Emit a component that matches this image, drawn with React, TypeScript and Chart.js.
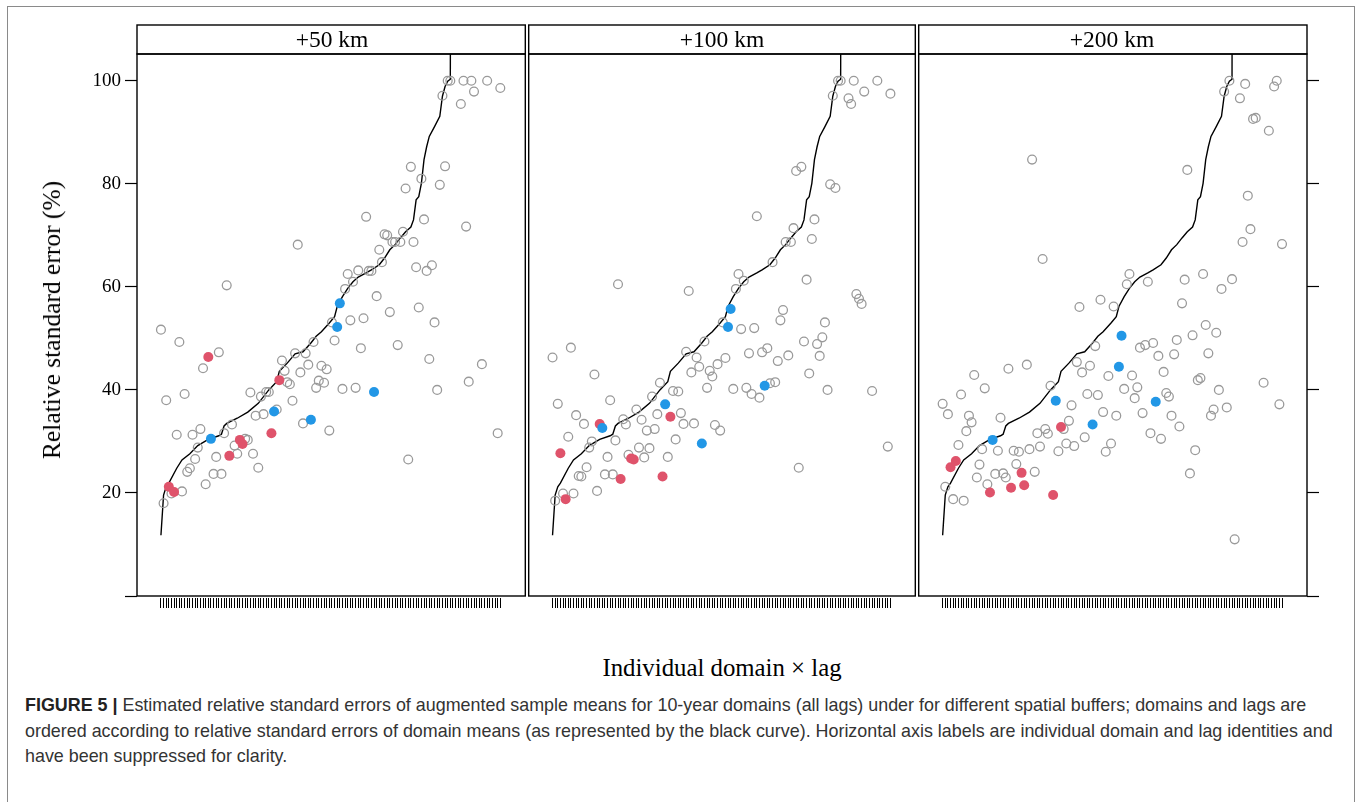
import React, { useEffect, useRef } from 'react';
import { Chart, registerables } from 'chart.js';

Chart.register(...registerables);

// ---------------- data ----------------
const PANEL_LABELS = ['+50 km', '+100 km', '+200 km'];
const N_RANKS = 130; // individual domain x lag positions on the x axis
const Y_TICKS = [0, 20, 40, 60, 80, 100];
const Y_TICK_LABELS = ['', '20', '40', '60', '80', '100'];

// ranks highlighted in colour (same in all panels)
const RED_IDX = [3, 5, 18, 26, 30, 31, 42, 45];
const BLUE_IDX = [19, 43, 57, 67, 68, 81];

// relative standard error (%) of augmented sample means, by rank
const RSE_50 = [
  51.7, 18.0, 38.0, 21.2, 19.9, 20.2, 31.3, 49.3, 20.3, 39.2,
  24.1, 24.8, 31.3, 26.6, 28.8, 32.4, 44.2, 21.7, 46.4, 30.5,
  23.7, 27.0, 47.3, 23.7, 31.6, 60.3, 27.2, 33.3, 29.2, 27.6,
  30.3, 29.5, 30.5, 30.3, 39.5, 27.6, 35.0, 24.9, 38.7, 35.3,
  39.6, 39.6, 31.6, 35.8, 36.2, 41.9, 45.7, 43.7, 41.5, 41.1,
  37.9, 47.1, 68.2, 43.4, 33.5, 47.1, 44.9, 34.2, 49.3, 40.4,
  41.8, 44.7, 41.4, 44.0, 32.1, 53.1, 49.6, 52.2, 56.8, 40.2,
  59.6, 62.5, 53.5, 61.0, 40.4, 63.2, 48.1, 53.9, 73.6, 63.1,
  63.1, 39.6, 58.2, 67.2, 64.8, 70.2, 70.0, 55.1, 68.7, 68.7,
  48.7, 68.7, 70.7, 79.1, 26.5, 83.3, 68.7, 63.8, 56.0, 81.0,
  73.1, 63.1, 46.0, 64.2, 53.1, 40.0, 79.8, 97.1, 83.4, 100,
  100, null, null, null, 95.5, 100, 71.7, 41.6, 100, 97.9,
  null, null, 45.0, null, 100, null, null, null, 31.6, 98.6,
];

const RSE_100 = [
  46.3, 18.5, 37.3, 27.7, 19.9, 18.8, 30.9, 48.2, 19.9, 35.1,
  23.3, 23.2, 33.4, 25.0, 28.8, 30.0, 43.0, 20.4, 33.4, 32.6,
  23.6, 27.0, 38.0, 23.6, 30.2, 60.5, 22.7, 34.3, 33.3, 27.4,
  26.7, 26.5, 36.2, 28.8, 34.2, 26.9, 32.1, 28.7, 38.7, 32.4,
  35.3, 41.4, 23.2, 37.2, 27.0, 34.8, 39.8, 30.4, 39.7, 35.5,
  33.4, 47.4, 59.2, 43.4, 33.5, 46.3, 44.5, 29.6, 49.4, 40.4,
  43.7, 42.6, 33.2, 45.0, 32.1, 53.1, 46.2, 52.2, 55.7, 40.2,
  59.6, 62.5, 51.8, 61.2, 40.4, 47.1, 39.2, 52.0, 73.7, 38.5,
  47.3, 40.8, 48.1, 41.3, 64.8, 41.5, 45.6, 53.5, 55.5, 68.7,
  46.7, 68.7, 71.4, 82.5, 24.9, 83.3, 49.4, 61.4, 43.2, 69.3,
  73.1, 48.9, 46.6, 50.2, 53.1, 40.0, 79.9, 97.1, 79.2, 100,
  100, null, null, 96.6, 95.5, 100, 58.6, 57.7, 56.7, 97.9,
  null, null, 39.8, null, 100, null, null, null, 29.0, 97.5,
];

const RSE_200 = [
  37.3, 21.2, 35.3, 25.0, 18.8, 26.2, 29.3, 39.1, 18.5, 32.0,
  35.0, 33.7, 42.9, 23.0, 25.5, 28.5, 40.3, 21.7, 20.1, 30.3,
  23.7, 28.2, 34.6, 23.8, 23.0, 44.1, 21.0, 28.2, 25.6, 28.0,
  23.9, 21.5, 44.9, 28.5, 84.7, 24.1, 31.6, 29.0, 65.4, 32.4,
  31.5, 40.8, 19.6, 37.9, 28.1, 32.8, 32.4, 29.6, 34.0, 37.0,
  29.1, 45.4, 56.1, 43.4, 30.8, 39.2, 44.7, 33.3, 48.5, 39.0,
  57.5, 35.7, 28.0, 42.7, 29.6, 56.2, 35.0, 44.5, 50.5, 40.2,
  60.5, 62.5, 42.8, 38.4, 40.5, 48.2, 35.5, 48.7, 61.0, 31.6,
  49.1, 37.7, 46.6, 30.5, 43.5, 39.4, 38.7, 35.0, 46.9, 49.7,
  32.9, 56.8, 61.4, 82.7, 23.8, 50.6, 28.3, 41.9, 42.3, 62.5,
  52.6, 47.1, 35.0, 36.2, 51.1, 40.0, 59.6, 97.9, 36.6, 100,
  61.5, 11.0, null, 96.6, 68.7, 99.4, 77.7, 71.2, 92.6, 92.8,
  null, null, 41.4, null, 90.3, null, 98.9, 100, 37.2, 68.3,
];

// relative standard error (%) of domain means (black curve); last value is beyond the axis
const CURVE_IDX = [
  0, 1, 2, 3, 6, 8, 11, 14, 18, 22, 23, 24, 25, 29, 33, 37, 41, 44, 45, 48,
  51, 54, 57, 59, 61, 64, 66, 67, 69, 71, 73, 75, 78, 80, 83, 85, 87, 89, 91, 93,
  95, 96, 97, 98, 99, 100, 101, 102, 104, 106, 107, 108, 109, 110, 111,
];
const CURVE_RSE = [
  11.8, 19.6, 21.2, 21.9, 24.8, 26.4, 27.6, 29.2, 30.4, 31.1, 31.4, 33.0, 33.5, 34.5, 35.7, 37.4, 40.0, 41.6, 43.6, 45.2,
  47.0, 47.4, 49.1, 50.4, 51.3, 53.0, 54.2, 56.2, 58.1, 59.7, 61.0, 61.9, 62.7, 63.3, 64.3, 65.6, 67.2, 68.2, 69.5, 70.7,
  71.6, 73.0, 76.9, 77.5, 80.1, 84.7, 87.2, 89.2, 91.1, 93.1, 97.0, 98.9, 99.9, 100.3, 400,
];

const SERIES = [RSE_50, RSE_100, RSE_200];

// ---------------- layout / style ----------------
const PANEL_LEFT = [137, 527, 917];
const PANEL_W = 390;
const PANEL_TOP = 54;
const PANEL_BOTTOM = 596;
const STRIP_TOP = 25;
const CANVAS_TOP = 20;
const X_AXIS_H = 24;
const Y_AXIS_W = 77;
const Y2_AXIS_W = 22;
const EDGE = 4;
const X_MIN = -9.1;
const X_MAX = 138.5;
const Y_MIN = 0;
const Y_MAX = 105.2;

const GRAY = '#9A9A9A';
const RED = '#DF536B';
const BLUE = '#2297E6';
const SERIF = "'Liberation Serif', 'DejaVu Serif', serif";

const RANK_TICKS = Array.from({ length: N_RANKS }, (_, i) => i);

const framePlugin = {
  id: 'latticeFrame',
  afterDraw(chart: any) {
    const { ctx, chartArea: a } = chart;
    const strip = PANEL_TOP - STRIP_TOP;
    ctx.save();
    ctx.strokeStyle = '#000';
    ctx.lineWidth = 1.4;
    ctx.strokeRect(a.left, a.top, a.right - a.left, a.bottom - a.top);
    ctx.strokeRect(a.left, a.top - strip, a.right - a.left, strip);
    ctx.restore();
  },
};

function buildDatasets(values: (number | null)[]) {
  const gray: any[] = [];
  const red: any[] = [];
  const blue: any[] = [];
  values.forEach((v, i) => {
    if (v === null) return;
    const pt = { x: i, y: v };
    if (RED_IDX.includes(i)) red.push(pt);
    else if (BLUE_IDX.includes(i)) blue.push(pt);
    else gray.push(pt);
  });
  const curve = CURVE_IDX.map((x, k) => ({ x, y: CURVE_RSE[k] }));
  return [
    {
      label: 'blue', data: blue, order: 0,
      pointRadius: 5, pointBackgroundColor: BLUE, pointBorderWidth: 0, pointBorderColor: BLUE,
      backgroundColor: BLUE, borderColor: BLUE,
    },
    {
      label: 'red', data: red, order: 1,
      pointRadius: 5, pointBackgroundColor: RED, pointBorderWidth: 0, pointBorderColor: RED,
      backgroundColor: RED, borderColor: RED,
    },
    {
      label: 'gray', data: gray, order: 2,
      pointRadius: 4.4, pointBackgroundColor: 'rgba(0,0,0,0)', pointBorderColor: GRAY, pointBorderWidth: 1.3,
      backgroundColor: 'rgba(0,0,0,0)', borderColor: GRAY,
    },
    {
      label: 'domain means', data: curve, order: 3, showLine: true,
      borderColor: '#000', borderWidth: 1.4, pointRadius: 0, tension: 0, fill: false, clip: 0,
    },
  ];
}

function Panel({ index }: { index: number }) {
  const ref = useRef<HTMLCanvasElement>(null);
  const padL = index === 0 ? Y_AXIS_W : EDGE;
  const padR = index === 2 ? Y2_AXIS_W : EDGE;
  const width = padL + PANEL_W + padR;
  const height = PANEL_BOTTOM + X_AXIS_H - CANVAS_TOP;

  useEffect(() => {
    if (!ref.current) return;
    const tickGrid = {
      display: true, drawOnChartArea: false, drawTicks: true, tickLength: 12,
      tickColor: '#000', tickWidth: 1.2, color: '#000', lineWidth: 1,
    };
    const yScale: any = {
      type: 'linear', position: 'left', min: Y_MIN, max: Y_MAX, display: index === 0,
      afterBuildTicks: (s: any) => { s.ticks = Y_TICKS.map((v) => ({ value: v })); },
      ticks: {
        autoSkip: false, padding: 4, color: '#000',
        font: { family: SERIF, size: 19 },
        callback: (_v: any, i: number) => Y_TICK_LABELS[i],
      },
      grid: tickGrid,
      border: { display: false },
    };
    if (index === 0) {
      yScale.afterFit = (s: any) => { s.width = Y_AXIS_W; };
    }
    const scales: any = {
      x: {
        type: 'linear', min: X_MIN, max: X_MAX, offset: false,
        afterBuildTicks: (s: any) => { s.ticks = RANK_TICKS.map((v) => ({ value: v })); },
        afterFit: (s: any) => { s.height = X_AXIS_H; },
        ticks: { display: false, autoSkip: false },
        grid: { ...tickGrid, tickWidth: 1 },
        border: { display: true, width: 4, color: 'rgba(0,0,0,0)' },
      },
      y: yScale,
    };
    if (index === 2) {
      scales.y2 = {
        type: 'linear', position: 'right', min: Y_MIN, max: Y_MAX, display: true,
        afterBuildTicks: (s: any) => { s.ticks = Y_TICKS.map((v) => ({ value: v })); },
        afterFit: (s: any) => { s.width = Y2_AXIS_W; },
        ticks: { display: false },
        grid: tickGrid,
        border: { display: false },
      };
    }
    const chart = new Chart(ref.current, {
      type: 'scatter',
      data: { datasets: buildDatasets(SERIES[index]) as any },
      options: {
        responsive: false,
        maintainAspectRatio: false,
        devicePixelRatio: 1,
        animation: false,
        events: [],
        layout: {
          padding: {
            top: PANEL_TOP - CANVAS_TOP,
            bottom: 0,
            left: index === 0 ? 0 : EDGE,
            right: index === 2 ? 0 : EDGE,
          },
        },
        plugins: { legend: { display: false }, tooltip: { enabled: false }, title: { display: false } },
        scales,
      } as any,
      plugins: [framePlugin],
    });
    return () => chart.destroy();
  }, [index]);

  return (
    <canvas
      ref={ref}
      width={width}
      height={height}
      style={{ position: 'absolute', left: PANEL_LEFT[index] - padL, top: CANVAS_TOP, width, height }}
    />
  );
}

export default function App() {
  return (
    <div style={{ position: 'absolute', left: 0, top: 0, width: 1362, height: 802, overflow: 'hidden', background: '#fff' }}>
      <div
        style={{
          position: 'absolute', left: 7, top: 6, width: 1348, height: 830,
          border: '1px solid #8a8a8a', boxSizing: 'border-box',
        }}
      />
      {PANEL_LABELS.map((_, i) => <Panel key={i} index={i} />)}
      {PANEL_LABELS.map((lab, i) => (
        <div
          key={'s' + i}
          style={{
            position: 'absolute', left: PANEL_LEFT[i], top: STRIP_TOP, width: PANEL_W,
            height: PANEL_TOP - STRIP_TOP, lineHeight: `${PANEL_TOP - STRIP_TOP}px`,
            textAlign: 'center', fontFamily: SERIF, fontSize: 23.5, color: '#000',
          }}
        >
          {lab}
        </div>
      ))}
      <div
        style={{
          position: 'absolute', left: 52, top: 320, transform: 'translate(-50%, -50%) rotate(-90deg)',
          whiteSpace: 'nowrap', fontFamily: SERIF, fontSize: 25.5, color: '#000',
        }}
      >
        Relative standard error (%)
      </div>
      <div
        style={{
          position: 'absolute', left: 722, top: 668, transform: 'translate(-50%, -50%)',
          whiteSpace: 'nowrap', fontFamily: SERIF, fontSize: 24.8, color: '#000',
        }}
      >
        Individual domain × lag
      </div>
      <div
        style={{
          position: 'absolute', left: 25, top: 693, width: 1330,
          fontFamily: "'Liberation Sans', Arial, sans-serif", fontSize: 17.9, lineHeight: '25.5px',
          color: '#333', whiteSpace: 'nowrap',
        }}
      >
        <div>
          <b style={{ color: '#222' }}>FIGURE 5 |</b> Estimated relative standard errors of augmented sample means for 10-year domains (all lags) under for different spatial buffers; domains and lags are
        </div>
        <div>
          ordered according to relative standard errors of domain means (as represented by the black curve). Horizontal axis labels are individual domain and lag identities and
        </div>
        <div>have been suppressed for clarity.</div>
      </div>
    </div>
  );
}
